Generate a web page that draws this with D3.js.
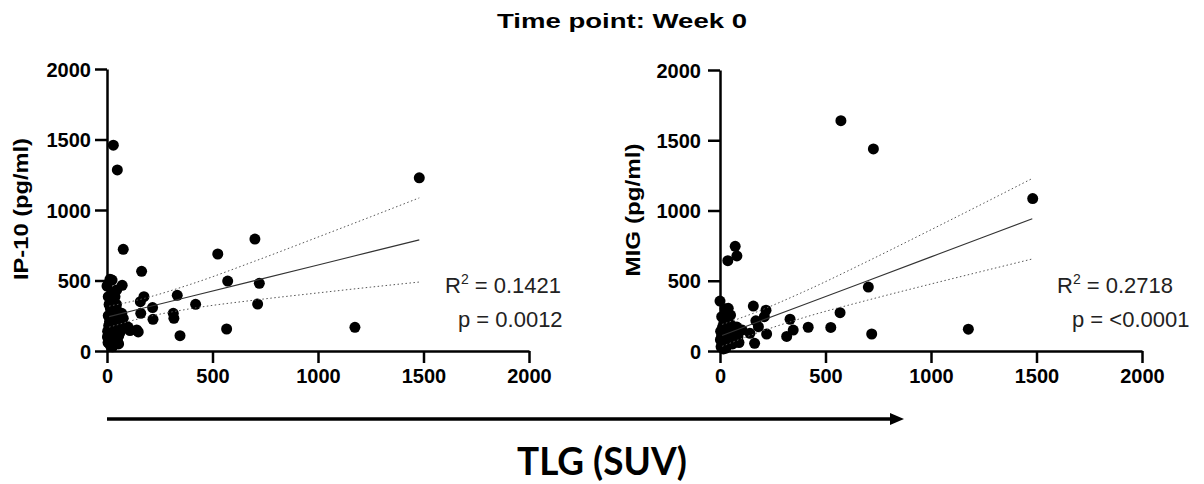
<!DOCTYPE html>
<html>
<head>
<meta charset="utf-8">
<script src="https://cdn.jsdelivr.net/npm/d3@7"></script>
<style>
  body { margin: 0; background: #fff; }
  svg { display: block; }
</style>
</head>
<body>
<svg id="chart" width="1204" height="484"></svg>
<script>
// tick values shared by both axes of both panels
const ticks = [0, 500, 1000, 1500, 2000];

// [TLG, IP-10] pairs
const ip10Points = [
  [30,1460],[49,1284],[77,721],[525,688],[701,794],[572,496],[722,480],[714,333],
  [567,156],[346,109],[420,331],[333,395],[314,267],[317,232],[216,308],[218,225],
  [164,565],[175,385],[158,350],[160,267],[148,135],[109,145],[72,466],[1480,1228],
  [1175,168],[100,170],[141,149],
  [14,508],[0,461],[6,385],[14,338],[38,385],[46,433],[24,503],[30,411],[70,267],[77,232],
  [5,60],[10,90],[15,40],[20,120],[25,150],[8,180],[12,210],[18,240],[30,200],[35,170],
  [40,130],[45,100],[50,70],[55,50],[60,160],[28,80],[22,270],[38,250],[42,220],[48,190],
  [3,140],[14,110],[33,60],[65,140],[26,30],[52,280],[58,230],[6,250],[16,300],[35,300],
  [45,330],[10,330],[56,110],[62,200],[2,100]
];

// [TLG, MIG] pairs
const migPoints = [
  [573,1639],[727,1438],[1482,1085],[1177,155],[72,745],[80,677],[37,643],[703,455],
  [569,273],[719,121],[525,168],[418,169],[332,226],[347,149],[316,104],[218,290],
  [210,244],[221,121],[158,320],[170,215],[182,173],[164,55],[142,126],[105,149],
  [0,355],[24,300],[39,304],[50,256],[8,244],
  [5,30],[10,60],[15,90],[20,120],[25,150],[30,180],[35,40],[40,70],[45,100],[50,130],
  [55,160],[60,50],[65,80],[70,110],[3,140],[12,170],[18,200],[28,20],[33,100],[42,150],
  [48,190],[58,120],[75,140],[85,100],[90,60],[8,110],[22,50],[38,210],[62,175],[80,170],
  [2,80],[16,15]
];

// linear fit and 95% band, sampled at fitX
const fitX      = [10, 150, 400, 700, 1000, 1250, 1480];
const ip10Fit   = [244, 296, 388, 499, 610, 703, 788];
const ip10Upper = [318, 363, 475, 637, 808, 952, 1086];
const ip10Lower = [169, 228, 301, 361, 412, 453, 489];
const migFit    = [111, 190, 331, 500, 670, 811, 941];
const migUpper  = [189, 264, 424, 639, 863, 1052, 1228];
const migLower  = [33, 115, 239, 362, 477, 570, 655];

const ip10Stats = ["0.1421", "0.0012"];
const migStats  = ["0.2718", "<0.0001"];

const svg = d3.select("#chart");
const arial = "'Liberation Sans', Arial, sans-serif";

function drawPanel(p) {
  const x = d3.scaleLinear().domain([0, 2000]).range(p.xRange);
  const y = d3.scaleLinear().domain([0, 2000]).range(p.yRange);
  const g = svg.append("g");

  // points first, axes drawn on top
  g.selectAll("circle.pt").data(p.points).join("circle")
    .attr("class", "pt")
    .attr("cx", d => x(d[0]))
    .attr("cy", d => y(d[1]))
    .attr("r", 5.5)
    .attr("fill", "#000");

  const line = d3.line().x((d, i) => x(fitX[i])).y(d => y(d));
  g.append("path").attr("d", line(p.fit))
    .attr("fill", "none").attr("stroke", "#333").attr("stroke-width", 1.1);

  const band = d3.line().curve(d3.curveMonotoneX).x((d, i) => x(fitX[i])).y(d => y(d));
  [p.upper, p.lower].forEach(b => {
    g.append("path").attr("d", band(b))
      .attr("fill", "none").attr("stroke", "#555").attr("stroke-width", 1)
      .attr("stroke-dasharray", "1.5,2.5");
  });

  const xAxis = g.append("g")
    .attr("transform", `translate(0,${p.yRange[0]})`)
    .call(d3.axisBottom(x).tickValues(ticks).tickFormat(d3.format("d"))
      .tickSize(12).tickPadding(20).tickSizeOuter(0));
  const yAxis = g.append("g")
    .attr("transform", `translate(${p.xRange[0]},0)`)
    .call(d3.axisLeft(y).tickValues(ticks).tickFormat(d3.format("d"))
      .tickSize(p.yTick).tickPadding(p.yPad).tickSizeOuter(0));

  [xAxis, yAxis].forEach(a => {
    a.select(".domain").attr("stroke", "#000").attr("stroke-width", 2.5);
    a.selectAll(".tick line").attr("stroke", "#000").attr("stroke-width", 2.5);
    a.selectAll(".tick text")
      .attr("fill", "#000")
      .style("font-family", arial)
      .style("font-weight", "bold")
      .style("font-size", "20px");
  });
  xAxis.selectAll(".tick text").attr("dy", "0");
  yAxis.selectAll(".tick text").attr("dy", "0.36em");

  // rotated y label
  g.append("text")
    .attr("transform", `translate(${p.labelX},${p.labelY}) rotate(-90)`)
    .attr("text-anchor", "middle")
    .attr("textLength", p.labelLen)
    .attr("lengthAdjust", "spacingAndGlyphs")
    .style("font-family", arial)
    .style("font-weight", "bold")
    .style("font-size", "19.5px")
    .text(p.label);

  // R² and p value
  const r2 = g.append("text").attr("x", p.statX[0]).attr("y", 293)
    .style("font-family", arial).style("font-size", "22px").attr("fill", "#222");
  r2.append("tspan").text("R");
  r2.append("tspan").attr("dy", -9).style("font-size", "14px").text("2");
  r2.append("tspan").attr("dy", 9).text(" = " + p.stats[0]);
  g.append("text").attr("x", p.statX[1]).attr("y", 327)
    .style("font-family", arial).style("font-size", "22px").attr("fill", "#222")
    .text("p = " + p.stats[1]);
}

drawPanel({
  points: ip10Points, fit: ip10Fit, upper: ip10Upper, lower: ip10Lower, stats: ip10Stats,
  xRange: [107, 529], yRange: [351, 69], yTick: 12, yPad: 4,
  label: "IP-10 (pg/ml)", labelX: 28, labelY: 209, labelLen: 142,
  statX: [445, 458]
});
drawPanel({
  points: migPoints, fit: migFit, upper: migUpper, lower: migLower, stats: migStats,
  xRange: [720, 1142], yRange: [351, 70], yTick: 12, yPad: 7,
  label: "MIG (pg/ml)", labelX: 640, labelY: 210, labelLen: 133,
  statX: [1057, 1072]
});

// title
svg.append("text")
  .attr("x", 622).attr("y", 28)
  .attr("text-anchor", "middle")
  .attr("textLength", 250)
  .attr("lengthAdjust", "spacingAndGlyphs")
  .style("font-family", arial)
  .style("font-weight", "bold")
  .style("font-size", "21px")
  .text("Time point: Week 0");

// shared x arrow and label
svg.append("line")
  .attr("x1", 107).attr("y1", 419).attr("x2", 892).attr("y2", 419)
  .attr("stroke", "#000").attr("stroke-width", 3.5);
svg.append("path")
  .attr("d", d3.line()([[890, 413], [904, 419], [890, 425]]) + "Z")
  .attr("fill", "#000");
svg.append("text")
  .attr("x", 602).attr("y", 475)
  .attr("text-anchor", "middle")
  .attr("textLength", 170)
  .attr("lengthAdjust", "spacingAndGlyphs")
  .style("font-family", "Lato, 'Open Sans', sans-serif")
  .style("font-weight", "bold")
  .style("font-size", "39px")
  .text("TLG (SUV)");
</script>
</body>
</html>
